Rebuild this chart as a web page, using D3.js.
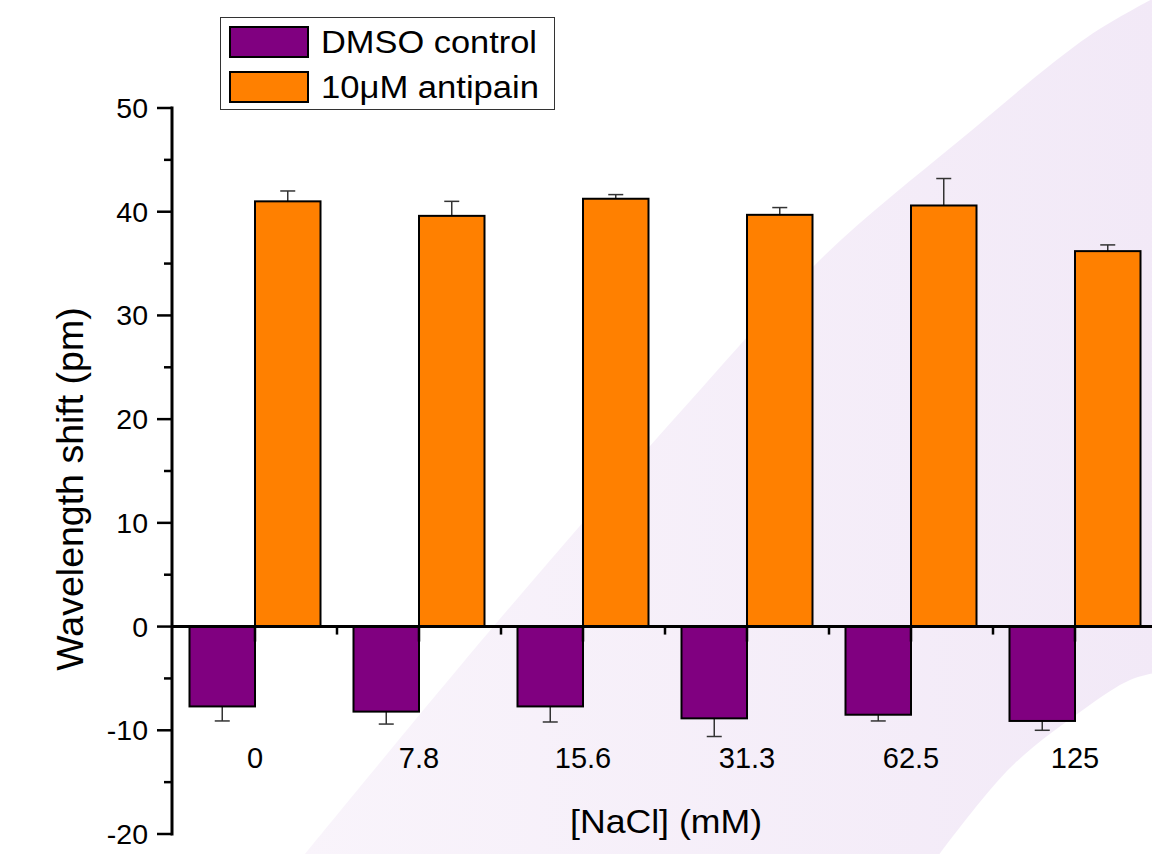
<!DOCTYPE html>
<html>
<head>
<meta charset="utf-8">
<script src="https://cdn.jsdelivr.net/npm/d3@7"></script>
<style>
  html, body { margin: 0; padding: 0; background: #fff; }
  svg { display: block; }
</style>
</head>
<body>
<svg id="chart" width="1152" height="854"></svg>
<script>
// NaCl 浓度分组柱状图：DMSO 对照 vs 10 μM antipain
const conc = ["0", "7.8", "15.6", "31.3", "62.5", "125"];
const dmso = [-7.7, -8.2, -7.7, -8.85, -8.5, -9.1];
const dmsoErr = [1.4, 1.2, 1.5, 1.75, 0.6, 0.9];
const anti = [41.0, 39.6, 41.25, 39.7, 40.6, 36.2];
const antiErr = [1.0, 1.4, 0.4, 0.7, 2.6, 0.6];
const yTicks = [-20, -10, 0, 10, 20, 30, 40, 50];
const yMinor = [-15, -5, 5, 15, 25, 35, 45];

const FONT = "Liberation Sans, Arial, sans-serif";
const PURPLE = "#800080", ORANGE = "#ff8000";

const svg = d3.select("#chart");
const AX = 172;

const x = d3.scaleBand().domain(conc).range([AX + 1, AX + 1 + 164 * conc.length]);
const sub = d3.scaleBand().domain(["dmso", "anti"])
  .range([x.bandwidth() / 2 - 65.5, x.bandwidth() / 2 + 65.5]);
const y = d3.scaleLinear().domain([-20, 50]).range([834, 108]);

// 背景装饰：淡紫色弧形色带
const defs = svg.append("defs");
const grad = defs.append("linearGradient").attr("id", "bg")
  .attr("x1", "0").attr("y1", "0").attr("x2", "1").attr("y2", "0");
grad.append("stop").attr("offset", "0").attr("stop-color", "#f9f4fb");
grad.append("stop").attr("offset", "1").attr("stop-color", "#f2e9f7");
const upper = [[300, 860], [493, 627], [691, 400], [825, 255], [960, 140], [1089, 36], [1160, -5]];
const lower = [[1160, 672], [1130, 680], [1087, 707], [1011, 767], [935, 860]];
const curve = d3.line().curve(d3.curveCatmullRom.alpha(0.5));
svg.append("path")
  .attr("d", curve(upper) + "L1160,672" + curve(lower).replace(/^M[^C]*/, "L1160,672") + "Z")
  .attr("fill", "url(#bg)");

// Y 轴
svg.append("line").attr("x1", AX).attr("x2", AX).attr("y1", y(50) - 1.5).attr("y2", y(-20) + 1.5)
  .attr("stroke", "#000").attr("stroke-width", 3);
yTicks.forEach(v => {
  svg.append("line").attr("x1", AX - 15).attr("x2", AX).attr("y1", y(v)).attr("y2", y(v))
    .attr("stroke", "#000").attr("stroke-width", 2.5);
  svg.append("text").attr("x", AX - 24).attr("y", y(v) + 10)
    .attr("text-anchor", "end")
    .attr("style", `font:28.5px ${FONT};fill:#000`)
    .text(v);
});
yMinor.forEach(v => {
  svg.append("line").attr("x1", AX - 8).attr("x2", AX).attr("y1", y(v)).attr("y2", y(v))
    .attr("stroke", "#000").attr("stroke-width", 2.5);
});

// 柱子
const g = svg.append("g");
conc.forEach((c, i) => {
  const x0 = x(c);
  // DMSO
  const xd = x0 + sub("dmso");
  g.append("line").attr("x1", xd + sub.bandwidth() / 2).attr("x2", xd + sub.bandwidth() / 2)
    .attr("y1", y(dmso[i])).attr("y2", y(dmso[i] - dmsoErr[i]))
    .attr("stroke", "#333").attr("stroke-width", 1.5);
  g.append("line").attr("x1", xd + sub.bandwidth() / 2 - 7.5).attr("x2", xd + sub.bandwidth() / 2 + 7.5)
    .attr("y1", y(dmso[i] - dmsoErr[i])).attr("y2", y(dmso[i] - dmsoErr[i]))
    .attr("stroke", "#333").attr("stroke-width", 1.5);
  g.append("rect").attr("x", xd).attr("y", y(0)).attr("width", sub.bandwidth())
    .attr("height", y(dmso[i]) - y(0))
    .attr("fill", PURPLE).attr("stroke", "#000").attr("stroke-width", 2);
  // antipain
  const xa = x0 + sub("anti");
  g.append("line").attr("x1", xa + sub.bandwidth() / 2).attr("x2", xa + sub.bandwidth() / 2)
    .attr("y1", y(anti[i])).attr("y2", y(anti[i] + antiErr[i]))
    .attr("stroke", "#333").attr("stroke-width", 1.5);
  g.append("line").attr("x1", xa + sub.bandwidth() / 2 - 7.5).attr("x2", xa + sub.bandwidth() / 2 + 7.5)
    .attr("y1", y(anti[i] + antiErr[i])).attr("y2", y(anti[i] + antiErr[i]))
    .attr("stroke", "#333").attr("stroke-width", 1.5);
  g.append("rect").attr("x", xa).attr("y", y(anti[i])).attr("width", sub.bandwidth())
    .attr("height", y(0) - y(anti[i]))
    .attr("fill", ORANGE).attr("stroke", "#000").attr("stroke-width", 2);

  // 类别刻度与标签
  const cx = x0 + x.bandwidth() / 2;
  svg.append("line").attr("x1", cx).attr("x2", cx).attr("y1", y(0)).attr("y2", y(0) + 15)
    .attr("stroke", "#000").attr("stroke-width", 2.5);
  if (i > 0) {
    svg.append("line").attr("x1", x0).attr("x2", x0).attr("y1", y(0)).attr("y2", y(0) + 8)
      .attr("stroke", "#000").attr("stroke-width", 2.5);
  }
  svg.append("text").attr("x", cx).attr("y", 768)
    .attr("text-anchor", "middle")
    .attr("style", `font:29px ${FONT};fill:#000`)
    .text(c);
});

// 零线（X 轴）
svg.append("line").attr("x1", AX).attr("x2", 1152).attr("y1", y(0)).attr("y2", y(0))
  .attr("stroke", "#000").attr("stroke-width", 3);

// 轴标题
svg.append("text").attr("x", 570).attr("y", 833)
  .attr("textLength", 192).attr("lengthAdjust", "spacingAndGlyphs")
  .attr("style", `font:33px ${FONT};fill:#000`)
  .text("[NaCl] (mM)");
svg.append("text")
  .attr("transform", `translate(83,${489}) rotate(-90)`)
  .attr("text-anchor", "middle")
  .attr("style", `font:37.5px ${FONT};fill:#000`)
  .text("Wavelength shift (pm)");

// 图例
const lg = svg.append("g");
lg.append("rect").attr("x", 220.5).attr("y", 17.5).attr("width", 334).attr("height", 92)
  .attr("fill", "#fff").attr("stroke", "#333").attr("stroke-width", 1);
const legendItems = [["DMSO control", PURPLE, 27, 216], ["10\u03bcM antipain", ORANGE, 72, 218]];
legendItems.forEach(([label, col, top, len]) => {
  lg.append("rect").attr("x", 230).attr("y", top).attr("width", 78).attr("height", 30)
    .attr("fill", col).attr("stroke", "#000").attr("stroke-width", 2);
  lg.append("text").attr("x", 321).attr("y", top + 26)
    .attr("textLength", len).attr("lengthAdjust", "spacingAndGlyphs")
    .attr("style", `font:31px ${FONT};fill:#000`)
    .text(label);
});
</script>
</body>
</html>
